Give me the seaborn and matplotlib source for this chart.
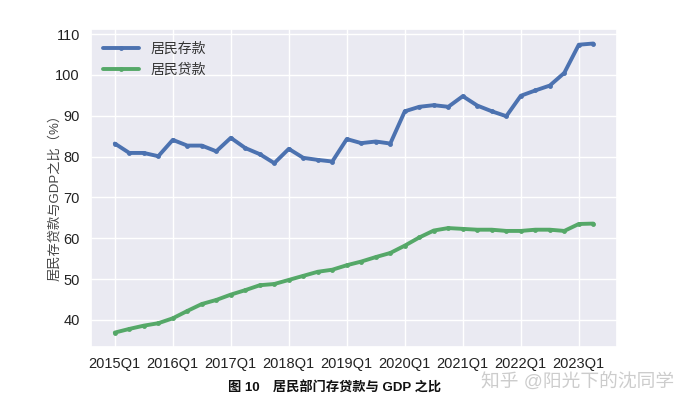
import matplotlib
matplotlib.use("Agg")
import matplotlib.pyplot as plt
import pandas as pd
import seaborn as sns

# quarterly data, 2015Q1 - 2023Q2
quarters = [f"{y}Q{q}" for y in range(2015, 2024) for q in range(1, 5)][:34]

deposit = [83.2, 80.9, 80.9, 80.1, 84.1, 82.7, 82.7, 81.3, 84.6, 82.1,
           80.6, 78.4, 81.9, 79.7, 79.2, 78.8, 84.3, 83.3, 83.7, 83.2,
           91.1, 92.2, 92.6, 92.2, 94.8, 92.5, 91.1, 89.9, 94.9, 96.2,
           97.4, 100.5, 107.4, 107.7]

loan = [36.9, 37.8, 38.6, 39.2, 40.4, 42.2, 43.9, 44.9, 46.2, 47.3,
        48.5, 48.8, 49.8, 50.8, 51.8, 52.3, 53.4, 54.3, 55.4, 56.4,
        58.2, 60.2, 61.9, 62.5, 62.3, 62.1, 62.1, 61.8, 61.8, 62.1,
        62.1, 61.8, 63.5, 63.6]

series_names = ["居民存款", "居民贷款"]
tick_labels = [q for q in quarters if q.endswith("Q1")]

sns.set_theme(style="darkgrid")
plt.rcParams["font.family"] = ["Liberation Sans", "Noto Sans CJK SC", "DejaVu Sans"]

df = pd.DataFrame({
    "idx": list(range(len(quarters))) * 2,
    "value": deposit + loan,
    "series": [series_names[0]] * len(deposit) + [series_names[1]] * len(loan),
})

fig = plt.figure(figsize=(6.99, 3.98), dpi=100)
ax = fig.add_axes([0.130, 0.128, 0.753, 0.799])

sns.lineplot(data=df, x="idx", y="value", hue="series",
             palette=["#4C72B0", "#55A868"], linewidth=2.8,
             marker="o", markersize=3.5, markeredgewidth=0, ax=ax)

ax.set_xticks([i for i, q in enumerate(quarters) if q.endswith("Q1")])
ax.set_xticklabels(tick_labels, fontsize=10.5)
ax.set_yticks(range(40, 111, 10))
ax.tick_params(axis="y", labelsize=10.5, pad=2, labelcolor="#222222")
ax.tick_params(axis="x", pad=1, labelcolor="#222222")
ax.set_xlabel("")
ax.set_ylabel("居民存贷款与GDP之比（%）", fontsize=9.5, color="#444444")
ax.yaxis.set_label_coords(-0.057, 0.48)

leg = ax.legend(loc="upper left", fontsize=10, frameon=False,
                handlelength=2.6)
for t in leg.get_texts():
    t.set_color("#333333")

fig.text(0.479, 0.024, "图 10　居民部门存贷款与 GDP 之比", ha="center",
         va="center", fontsize=9.5, fontweight="bold", color="#111111")
fig.text(0.826, 0.042, "知乎 @阳光下的沈同学", ha="center", va="center",
         fontsize=13.5, color="#c4c4c4", alpha=0.85)

fig.savefig("out.png", dpi=100)
